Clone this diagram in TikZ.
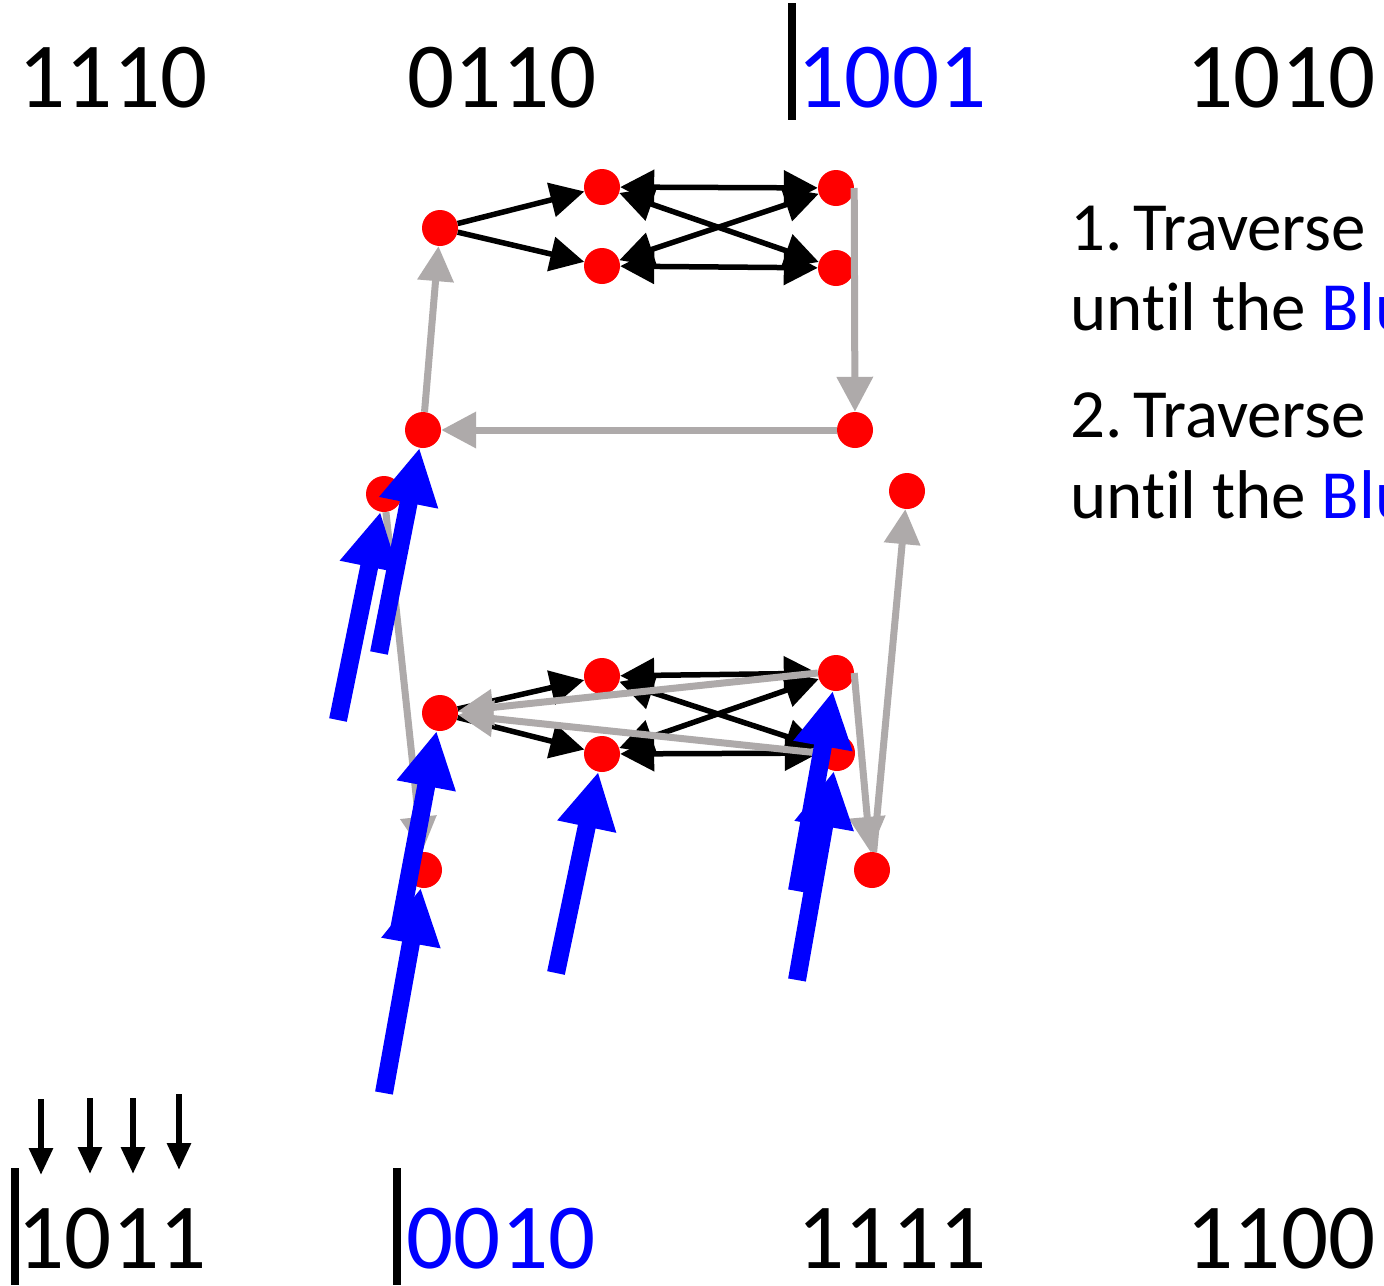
\documentclass[tikz,border=0pt]{standalone}
\usepackage{fontspec}
\setmainfont{Carlito}[Ligatures=NoCommon]
\usetikzlibrary{arrows.meta}
\definecolor{gr}{RGB}{174,170,170}
\definecolor{bl}{RGB}{0,0,255}
\definecolor{rd}{RGB}{255,0,0}
\begin{document}
\begin{tikzpicture}[x=1pt,y=-1pt,
 dot/.style={circle,fill=rd,minimum size=36pt,inner sep=0pt,draw=none},
 blk/.style={line width=5.5pt,-{Triangle[length=34pt,width=34pt]}},
 blkd/.style={line width=5.5pt,{Triangle[length=34pt,width=34pt]}-{Triangle[length=34pt,width=34pt]}},
 gry/.style={draw=gr,line width=7pt,-{Triangle[length=35pt,width=35pt]}},
 blu/.style={draw=bl,line width=18pt,-{Triangle[length=56pt,width=56pt]}},
 big/.style={font=\fontsize{93}{93}\selectfont,anchor=base,inner sep=0pt},
 txt/.style={font=\fontsize{69}{69}\selectfont,anchor=base west,inner sep=0pt},
 barline/.style={line width=7.5pt},
 smallarr/.style={line width=6pt,-{Triangle[length=27pt,width=23pt]}}]
\useasboundingbox (0,0) rectangle (1384,1285);
\clip (0,0) rectangle (1384,1285);
\fill[white] (0,0) rectangle (1384,1285);

% labels
\node[big] (l1) at (113,107) {1110};
\node[big] (l2) at (502,107) {0110};
\node[big,text=bl] (l3) at (892,107) {1001};
\node[big] (l4) at (1281,107) {1010};
\node[big] (b1) at (112,1268) {1011};
\node[big,text=bl] (b2) at (501,1268) {0010};
\node[big] (b3) at (892,1268) {1111};
\node[big] (b4) at (1281,1268) {1100};
\draw[barline] (792,3) -- (792,120);
\draw[barline] (15,1168) -- (15,1285);
\draw[barline] (397,1168) -- (397,1285);

\node[txt] (t1) at (1070,250) {1.\kern-5pt\ Traverse};
\node[txt] (t2) at (1070,330) {until the \textcolor{bl}{Blu}};
\node[txt] (t3) at (1070,437) {2.\kern-5pt\ Traverse};
\node[txt] (t4) at (1070,518) {until the \textcolor{bl}{Blu}};

% small arrows
\coordinate (s1a) at (41,1099); \coordinate (s1b) at (41,1175);
\coordinate (s2a) at (90,1098); \coordinate (s2b) at (90,1174);
\coordinate (s3a) at (133,1098); \coordinate (s3b) at (133,1174);
\coordinate (s4a) at (179,1094); \coordinate (s4b) at (179,1170);
\draw[smallarr] (s1a) -- (s1b);
\draw[smallarr] (s2a) -- (s2b);
\draw[smallarr] (s3a) -- (s3b);
\draw[smallarr] (s4a) -- (s4b);

% dots
\node[dot] (A) at (440,228) {};
\node[dot] (B) at (602,187) {};
\node[dot] (C) at (602,266) {};
\node[dot] (D) at (836,188) {};
\node[dot] (E) at (836,268) {};
\node[dot] (F) at (855,430) {};
\node[dot] (G) at (423,430) {};
\node[dot] (H) at (384,494) {};
\node[dot] (I) at (907,491) {};
\node[dot] (J) at (440,713) {};
\node[dot] (K) at (602,676) {};
\node[dot] (L) at (602,754) {};
\node[dot] (M) at (836,673) {};
\node[dot] (N) at (837,753) {};
\node[dot] (O) at (424,870) {};
\node[dot] (P) at (872,870) {};

% black arrows top
\draw[blk] (A) -- (B);
\draw[blk] (A) -- (C);
\draw[blkd] (B) -- (D);
\draw[blkd] (C) -- (E);
\draw[blkd] (B) -- (E);
\draw[blkd] (C) -- (D);
% black arrows bottom
\draw[blk] (J) -- (K);
\draw[blk] (J) -- (L);
\draw[blkd] (K) -- (M);
\draw[blkd] (L) -- (N);
\draw[blkd] (K) -- (N);
\draw[blkd] (L) -- (M);

% gray arrows
\draw[gry] (D.east) -- (F);
\draw[gry] (F) -- (G);
\draw[gry] (G) -- (A);
\draw[gry] (H) -- (O);
\draw[gry] (M.west) -- (J);
\draw[gry] (N.west) -- (J);
\draw[gry] (M.east) -- (P);
\draw[gry] (P) -- (I);

% blue arrows
\coordinate (u1) at (338,720);
\coordinate (u2) at (379,653);
\coordinate (u3) at (384,1093);
\coordinate (u4) at (399,930);
\coordinate (u5) at (556,973);
\coordinate (u6) at (797,980);
\coordinate (u7) at (797,891);
\draw[blu] (u1) -- (H);
\draw[blu] (u2) -- (G);
\draw[blu] (u4) -- (J);
\draw[blu] (u3) -- (O);
\draw[blu] (u5) -- (L);
\draw[blu] (u7) -- (M);
\draw[blu] (u6) -- (N);
\end{tikzpicture}
\end{document}
